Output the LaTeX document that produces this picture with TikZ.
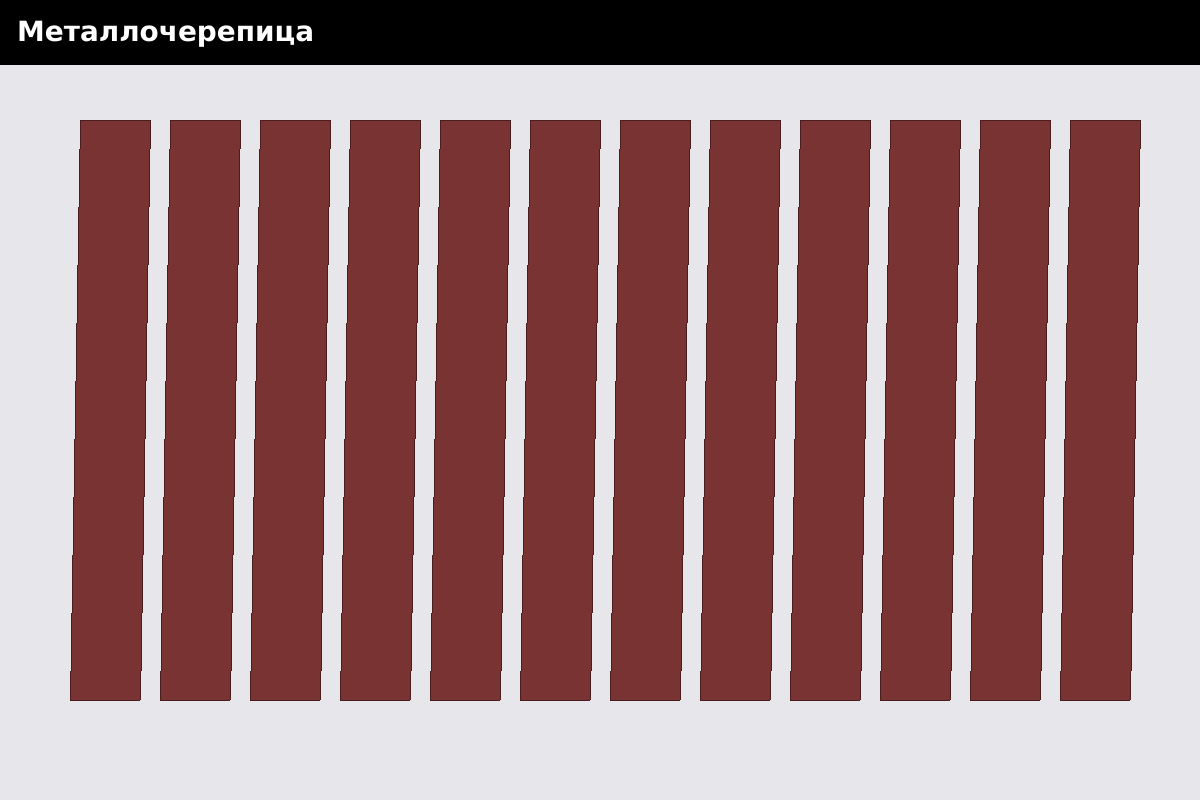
\documentclass[tikz,border=0pt]{standalone}
\usepackage{fontspec}
\setmainfont{DejaVu Sans}
\usepackage{xcolor}
\usepackage{tikz}

\definecolor{roofbg}{HTML}{E7E6EB}
\definecolor{tilered}{HTML}{7A3333}
\definecolor{tileedge}{HTML}{4A1E1E}

\begin{document}
\begin{tikzpicture}[
        x=1pt, y=-1pt,
        tilefill/.style={fill=tilered},
        tileline/.style={draw=tileedge, line width=0.7pt},
        heading/.style={anchor=base west, inner sep=0pt, text=white, font=\fontsize{27.9}{31}\selectfont\bfseries},
    ]
        \useasboundingbox (0,0) rectangle (1200,800);
        \fill[roofbg] (0,0) rectangle (1200,800);
        \fill[black] (0,0) rectangle (1200,65);
        \node[heading] (title) at (17,42) {Металлочерепица};

        % strips of tiles, each row shifted one step left
        \foreach \i in {0,...,11} {
            \foreach \r in {0,...,10} {
                \pgfmathsetmacro{\xl}{80+90*\i-\r}
                \pgfmathsetmacro{\xr}{\xl+70}
                \pgfmathsetmacro{\yt}{\r==0 ? 120 : 149+58*(\r-1)}
                \pgfmathsetmacro{\yb}{\r==10 ? 700 : 149+58*\r}
                \path[tilefill] (\xl,\yt) rectangle (\xr,\yb);
                \path[tileline] (\xl,\yt) -- (\xl,\yb) (\xr,\yt) -- (\xr,\yb);
            }
            \path[tileline] (80+90*\i,120) -- ++(70,0);
            \path[tileline] (70+90*\i,700) -- ++(70,0);
        }
    \end{tikzpicture}
\end{document}
